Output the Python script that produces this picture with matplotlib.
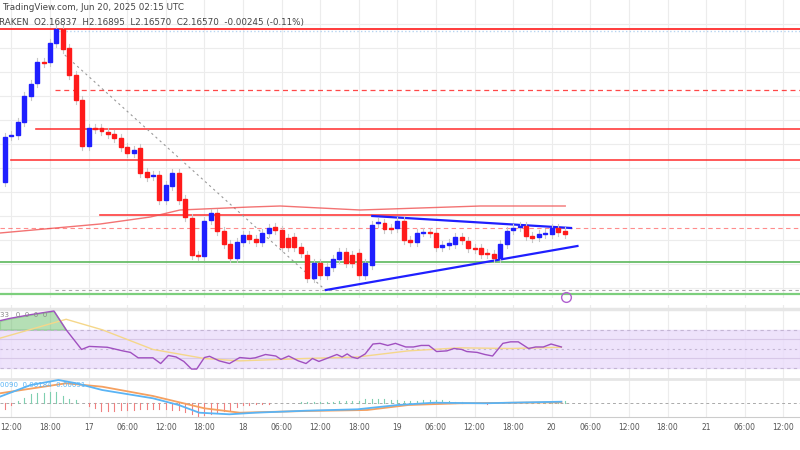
import numpy as np
import matplotlib.pyplot as plt
from matplotlib.patches import Rectangle

# --- candles (price level read in chart pixels, smaller = higher) ---
opens = [182, 136, 135, 122, 96, 83, 62, 62, 43, 29, 48, 75, 100, 146, 128, 128, 132, 134, 138, 147,
         153, 148, 172, 176, 175, 200, 186, 173, 199, 218, 255, 256, 220, 213, 231, 244, 258, 242, 235, 239,
         242, 233, 227, 230, 238, 237, 247, 255, 278, 263, 275, 267, 259, 252, 255, 253, 275, 265, 223, 223,
         228, 228, 221, 240, 242, 232, 232, 233, 247, 245, 244, 237, 241, 248, 248, 253, 254, 258, 244, 230,
         227, 226, 236, 237, 234, 234, 228, 231]
closes = [137, 135, 122, 96, 84, 62, 63, 43, 29, 49, 75, 100, 146, 128, 129, 131, 134, 138, 147, 153,
          150, 173, 177, 175, 200, 185, 173, 200, 217, 255, 256, 221, 213, 231, 244, 258, 242, 235, 239, 242,
          233, 228, 230, 247, 247, 247, 253, 278, 263, 275, 267, 259, 252, 263, 263, 275, 263, 225, 222, 229,
          229, 221, 240, 242, 233, 232, 233, 247, 245, 243, 237, 240, 248, 249, 254, 254, 258, 244, 231, 228,
          226, 236, 238, 234, 233, 228, 232, 234]

ma_x = [-0.8, 14.8, 22.6, 27.2, 38.1, 42.8, 55.2, 73.9, 87.1]
ma_y = [233, 224, 217, 210, 207, 206, 210, 206, 206]

rsi_x = [-0.8, 0.8, 4, 7.6, 9.5, 11.9, 13.1, 15.9, 18.3, 19.5, 20.7, 23, 24.2, 25.4, 26.6, 27.8, 29, 29.8,
         31, 31.8, 33.3, 34.9, 36.5, 38.1, 38.9, 40.5, 42.1, 42.9, 44.1, 45.6, 46.8, 47.8, 48.8, 50, 51.6,
         52.4, 53.2, 53.9, 54.8, 56, 57.2, 58.3, 59.5, 60.7, 62.3, 63.5, 64.7, 65.9, 67.1, 68.7, 69.8, 71,
         71.8, 73.4, 74.6, 75.8, 77.4, 78.6, 79.8, 81.4, 82.5, 83.7, 84.9, 86.5]
rsi_v = [79.5, 82, 85.9, 89.7, 70, 49.3, 52.5, 51.6, 47.8, 46.2, 40.5, 40.5, 34.5, 43, 41.4, 36.7, 28.7, 28.7,
         40.8, 42.1, 37.3, 34.5, 40.8, 39.8, 40.5, 44, 42.4, 38.9, 42.4, 37.3, 34.5, 39.8, 36.7, 39.8, 44,
         41.4, 44.6, 41.4, 39.8, 44.6, 55, 55.7, 53.5, 55.7, 51.9, 51.9, 53.5, 53.5, 47.1, 47.8, 50.3, 49.3,
         47.1, 46.2, 44, 42.4, 55.7, 57.3, 57.3, 50.3, 51.9, 51.9, 55, 51.9]
rsima_x = [-0.8, 9.5, 15.1, 23, 31, 36.5, 46.8, 54.8, 62.7, 70.6, 78.6, 86.5]
rsima_v = [61.1, 81, 70, 49.3, 39.8, 37.3, 39.8, 41.4, 47.8, 51, 50.3, 51.6]

macd_x = [-0.8, 4, 8.3, 11.1, 15.1, 23, 27, 30.2, 34.9, 38.9, 46.8, 54.8, 61.1, 66.7, 74.6, 78.6, 86.5]
macd_y = [396.7, 385, 380, 383.3, 390, 398.3, 405, 412.7, 414.3, 412.7, 410.7, 409.3, 405, 402.7, 403.3, 402.7, 401.7]
sig_x = [-0.8, 9.5, 15.1, 23, 31, 36.5, 46.8, 56.3, 62.7, 70.6, 86.5]
sig_y = [393.3, 383.3, 386.7, 396, 408.3, 412.7, 411, 410, 405, 403.3, 402.3]

tick_pos = [1 + 6 * k for k in range(21)]
tick_lab = ['12:00', '18:00', '17', '06:00', '12:00', '18:00', '18', '06:00', '12:00', '18:00', '19',
            '06:00', '12:00', '18:00', '20', '06:00', '12:00', '18:00', '21', '06:00', '12:00']

BLUE, RED = '#1f1fff', '#ff1a1a'
XL = (-0.78, 123.6)
fig = plt.figure(figsize=(8, 4.5), dpi=100)
ax = fig.add_axes([0, 152 / 450, 1, 298 / 450])
rx = fig.add_axes([0, 72 / 450, 1, 73 / 450])
mx = fig.add_axes([0, 33 / 450, 1, 39 / 450])
for a in (ax, rx, mx):
    a.set_xlim(*XL)
    for s in a.spines.values():
        s.set_visible(False)
    a.set_yticks([])
    for t in tick_pos:
        a.axvline(t, color='#ececec', lw=0.8, zorder=0)

ax.set_ylim(298, 0)
ax.set_xticks([])
for gy in range(24, 298, 24):
    ax.axhline(gy, color='#ececec', lw=0.8, zorder=0)

# levels
ax.axhline(29, color=RED, lw=1.2)
ax.plot([7.8, 124], [30.5, 30.5], color='#b8d4f0', lw=1, ls=':')
ax.plot([7.8, 124], [90, 90], color=RED, lw=0.9, ls=(0, (4, 3)), alpha=0.8)
ax.plot([4.8, 124], [129, 129], color=RED, lw=1.2, alpha=0.85)
ax.plot([0.9, 124], [160, 160], color=RED, lw=1.2, alpha=0.85)
ax.plot([14.8, 124], [215, 215], color=RED, lw=1.2, alpha=0.85)
ax.axhline(228, color=RED, lw=0.8, ls=(0, (4, 3)), alpha=0.5)
ax.axhline(262, color='#5cb85c', lw=1.2)
ax.plot([7.8, 124], [290, 290], color='#aaaaaa', lw=0.8, ls=(0, (3, 3)))
ax.axhline(294, color='#7ccf7c', lw=1.6)
ax.plot([9.3, 49.8], [55, 290], color='#999999', lw=0.8, ls=(0, (2, 3)))
ax.plot(ma_x, ma_y, color='#f05050', lw=1, alpha=0.8)
ax.plot([57.1, 88], [216, 228], color=BLUE, lw=1.6)
ax.plot([49.9, 89], [290, 246], color=BLUE, lw=1.6)

for i, (o, c) in enumerate(zip(opens, closes)):
    col = BLUE if c <= o else RED
    top, bot = min(o, c), max(o, c)
    ax.plot([i, i], [top - 4, bot + 4], color='#c8c8c8', lw=0.8, zorder=2)
    ax.add_patch(Rectangle((i - 0.31, top), 0.62, max(bot - top, 1.2), color=col, zorder=3))

ax.text(-0.5, 7, 'TradingView.com, Jun 20, 2025 02:15 UTC', fontsize=6.3, color='#444444', va='center')
ax.text(-0.9, 22, 'RAKEN  O2.16837  H2.16895  L2.16570  C2.16570  -0.00245 (-0.11%)',
        fontsize=6.3, color='#444444', va='center')
ax.plot([87.2], [297], marker='o', ms=7, mfc='none', mec='#b060d0', mew=1, clip_on=False)

# RSI panel
rx.set_ylim(19.3, 96)
rx.set_xticks([])
rx.axhspan(30, 70, color='#eadcfb', alpha=0.8, zorder=0)
for lv, ls in ((70, (0, (3, 3))), (30, (0, (3, 3))), (50, (0, (2, 3)))):
    rx.axhline(lv, color='#c4b6d4', lw=0.8, ls=ls)
rx.axhline(60, color='#d8c8e8', lw=0.8)
rx.axhline(40, color='#d8c8e8', lw=0.8)
rx.axhline(92, color='#e6e6e6', lw=2.5)
rv = np.array(rsi_v)
rx.fill_between(rsi_x, 70, rv, where=rv >= 70, interpolate=True, color='#5cb85c', alpha=0.45)
rx.plot(rsima_x, rsima_v, color='#f5d78a', lw=1)
rx.plot(rsi_x, rsi_v, color='#a050c0', lw=1)
rx.text(-0.8, 85, '33   0  0  0  0', fontsize=5, color='#888888', va='center')

# MACD panel
mx.set_ylim(417, 378)
mx.axhline(403, color='#aaaaaa', lw=0.7, ls=(0, (3, 3)))
mx.axhline(378.5, color='#e6e6e6', lw=2)
grid = np.arange(0, 88)
hist = (np.interp(grid, macd_x, macd_y) - np.interp(grid, sig_x, sig_y)) * 2.5
for i, h in zip(grid, hist):
    mx.plot([i, i], [403, 403 + h], color='#f08080' if h > 0 else '#7fcfb0', lw=0.8)
mx.plot(sig_x, sig_y, color='#f5a060', lw=1.3)
mx.plot(macd_x, macd_y, color='#5ab4f5', lw=1.3)
mx.text(-0.8, 385, '0090  0.00184  0.00091', fontsize=5, color='#5ab4f5', va='center')
mx.spines['bottom'].set_visible(True)
mx.spines['bottom'].set_color('#cccccc')
mx.set_xticks(tick_pos)
mx.set_xticklabels(tick_lab, fontsize=5.5, color='#555555')
mx.tick_params(axis='x', length=0, pad=4)

fig.savefig('out.png', dpi=100)
